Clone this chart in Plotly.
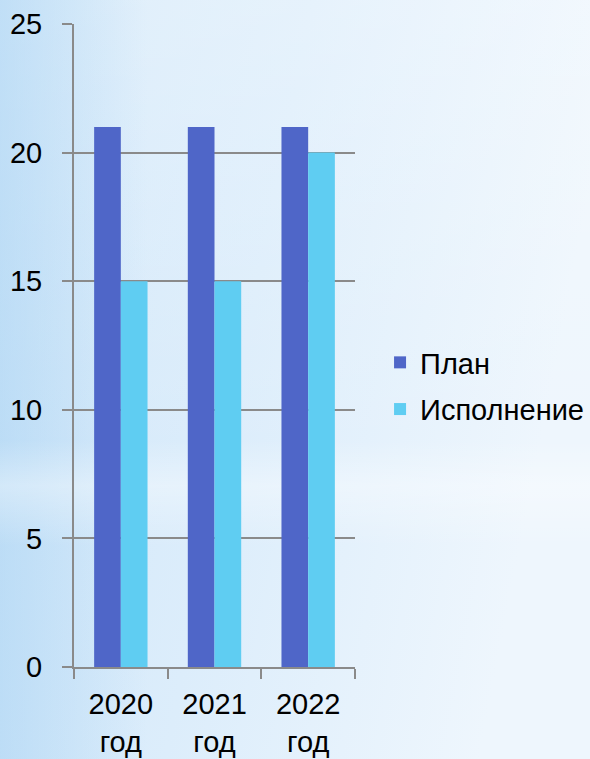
import base64
import plotly.graph_objects as go

categories = ["2020<br>год", "2021<br>год", "2022<br>год"]
plan = [21, 21, 21]
execution = [15, 15, 20]
series_names = ["План", "Исполнение"]
y_ticks = [0, 5, 10, 15, 20, 25]

W, H = 590, 759
L, R, T, B = 74, 235, 24, 92
pw, ph = W - L - R, H - T - B

svg = f'''<svg xmlns="http://www.w3.org/2000/svg" width="{W}" height="{H}" viewBox="0 0 {W} {H}" preserveAspectRatio="none">
<defs>
<linearGradient id="g" x1="0" y1="0" x2="1" y2="0.25">
<stop offset="0" stop-color="#cfe6f9"/>
<stop offset="0.5" stop-color="#dcedfb"/>
<stop offset="1" stop-color="#eef6fd"/>
</linearGradient>
<linearGradient id="h" x1="0" y1="0" x2="0" y2="1">
<stop offset="0" stop-color="#ffffff" stop-opacity="0"/>
<stop offset="0.58" stop-color="#ffffff" stop-opacity="0"/>
<stop offset="0.64" stop-color="#ffffff" stop-opacity="0.35"/>
<stop offset="0.72" stop-color="#ffffff" stop-opacity="0"/>
<stop offset="1" stop-color="#ffffff" stop-opacity="0"/>
</linearGradient>
<linearGradient id="v" x1="0" y1="0" x2="1" y2="0">
<stop offset="0" stop-color="#a9d3f3" stop-opacity="0.55"/>
<stop offset="0.25" stop-color="#a9d3f3" stop-opacity="0"/>
</linearGradient>
<linearGradient id="w" x1="0" y1="0" x2="0" y2="1">
<stop offset="0" stop-color="#ffffff" stop-opacity="0.3"/>
<stop offset="0.6" stop-color="#ffffff" stop-opacity="0"/>
</linearGradient>
</defs>
<rect width="{W}" height="{H}" fill="url(#g)"/>
<rect width="{W}" height="{H}" fill="url(#w)"/>
<rect width="{W}" height="{H}" fill="url(#v)"/>
<rect width="{W}" height="{H}" fill="url(#h)"/>
</svg>'''
src = "data:image/svg+xml;base64," + base64.b64encode(svg.encode()).decode()

font = dict(family="Liberation Sans, Arial, sans-serif", size=29, color="#000000")
grid = "#8a8a8a"

fig = go.Figure()
fig.add_trace(go.Bar(x=categories, y=plan, name=series_names[0],
                     marker=dict(color="#4f66c8", line=dict(width=0)), legendgroup="a"))
fig.add_trace(go.Bar(x=categories, y=execution, name=series_names[1],
                     marker=dict(color="#5fcdf2", line=dict(width=0)), legendgroup="b"))

fig.update_layout(
    width=W, height=H,
    margin=dict(l=L, r=R, t=T, b=B, pad=0, autoexpand=False),
    paper_bgcolor="#dcedfb",
    plot_bgcolor="rgba(0,0,0,0)",
    font=font,
    barmode="group",
    bargap=0.43,
    bargroupgap=0,
    showlegend=True,
    legend=dict(x=(400 - L) / pw - 0.071, y=(H - B - 386) / ph, xanchor="left", yanchor="middle",
                bgcolor="rgba(0,0,0,0)", font=font, tracegroupgap=6,
                itemwidth=30),
    images=[dict(source=src, xref="paper", yref="paper",
                 x=-L / pw, y=1 + T / ph, sizex=W / pw, sizey=H / ph,
                 xanchor="left", yanchor="top", sizing="stretch", layer="below")],
    xaxis=dict(showgrid=False, showline=True, linecolor=grid, linewidth=2, automargin=False,
               ticks="outside", tickson="boundaries", ticklen=10, tickwidth=2, tickcolor=grid,
               ticklabelstandoff=10, tickfont=font, fixedrange=True),
    yaxis=dict(range=[0, 25], tickvals=y_ticks, showgrid=True, gridcolor=grid, gridwidth=2,
               zeroline=False, showline=True, linecolor=grid, linewidth=2, automargin=False,
               ticks="outside", ticklen=10, tickwidth=2, tickcolor=grid,
               ticklabelstandoff=14, tickfont=font, fixedrange=True),
)

fig.write_html("out.html", config={"displayModeBar": False},
               post_script="document.body.style.margin='0';document.body.style.overflow='hidden';")
